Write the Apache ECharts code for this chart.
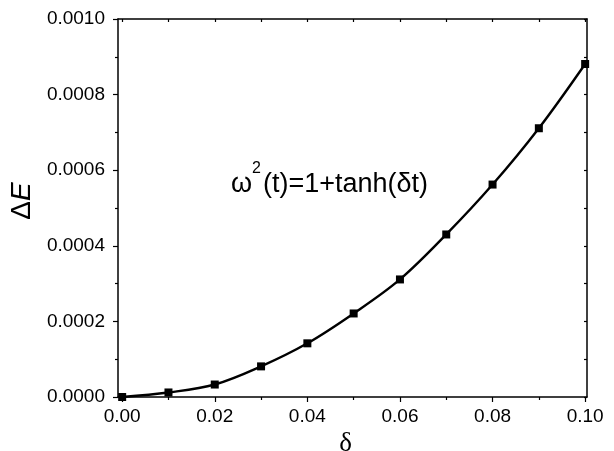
<!DOCTYPE html>
<html>
<head>
<meta charset="utf-8">
<script src="https://cdn.jsdelivr.net/npm/echarts@6/dist/echarts.min.js"></script>
<style>
  html, body { margin: 0; padding: 0; background: #fff; }
  #chart1 { width: 614px; height: 451px; }
</style>
</head>
<body>
<div id="chart1"></div>
<script>
// values
const deltas = [0.00, 0.01, 0.02, 0.03, 0.04, 0.05, 0.06, 0.07, 0.08, 0.09, 0.10];
const energyGap = [0.000000, 0.000012, 0.000033, 0.000081, 0.000142, 0.000221, 0.000311, 0.000430, 0.000562, 0.000711, 0.000881];
const xMajorTicks = [0.00, 0.02, 0.04, 0.06, 0.08, 0.10];
const xMinorTicks = [0.01, 0.03, 0.05, 0.07, 0.09];
const xAllTicks = [0.00, 0.01, 0.02, 0.03, 0.04, 0.05, 0.06, 0.07, 0.08, 0.09, 0.10];

const font = 'Liberation Sans, Arial, sans-serif';

const initChart = () => {
  const chart1 = echarts.init(document.getElementById('chart1'));

  const xBase = {
    type: 'value',
    min: -0.0009,
    max: 0.1004,
    splitLine: { show: false }
  };

  const option = {
    animation: false,
    grid: { left: 118, right: 27, top: 19, bottom: 54, outerBoundsMode: 'none', containLabel: false },
    xAxis: [
      Object.assign({}, xBase, {
        position: 'bottom',
        name: 'δ',
        nameLocation: 'middle',
        nameGap: 33,
        nameTextStyle: { fontFamily: 'Liberation Serif, serif', fontSize: 27, color: '#000', padding: [0, 14, 0, 0] },
        axisLine: { show: true, onZero: false, lineStyle: { color: '#000', width: 1.5 } },
        axisTick: { show: true, inside: false, length: 5, customValues: xMajorTicks, lineStyle: { color: '#000', width: 1.2 } },
        axisLabel: {
          customValues: xMajorTicks,
          margin: 10,
          fontFamily: font, fontSize: 19, color: '#000',
          formatter: v => v.toFixed(2)
        }
      }),
      Object.assign({}, xBase, {
        position: 'bottom',
        axisLine: { show: false, onZero: false },
        axisTick: { show: true, inside: false, length: 3, customValues: xMinorTicks, lineStyle: { color: '#000', width: 1.2 } },
        axisLabel: { show: false }
      }),
      Object.assign({}, xBase, {
        position: 'top',
        axisLine: { show: true, onZero: false, lineStyle: { color: '#000', width: 1.5 } },
        axisTick: { show: true, inside: true, length: 3, customValues: xAllTicks, lineStyle: { color: '#000', width: 1.2 } },
        axisLabel: { show: false }
      })
    ],
    yAxis: [
      {
        type: 'value',
        min: 0,
        max: 0.001,
        interval: 0.0002,
        position: 'left',
        name: '{d|Δ}{e|E}',
        nameLocation: 'middle',
        nameGap: 78,
        nameRotate: 90,
        nameTextStyle: {
          color: '#000',
          padding: [0, 0, 0, 14],
          rich: {
            d: { fontFamily: font, fontSize: 28, color: '#000' },
            e: { fontFamily: font, fontSize: 28, fontStyle: 'italic', color: '#000' }
          }
        },
        splitLine: { show: false },
        axisLine: { show: true, onZero: false, lineStyle: { color: '#000', width: 1.5 } },
        axisTick: { show: true, inside: false, length: 5, lineStyle: { color: '#000', width: 1.2 } },
        minorTick: { show: true, splitNumber: 2, length: 3, lineStyle: { color: '#000', width: 1.2 } },
        axisLabel: {
          margin: 13,
          fontFamily: font, fontSize: 19, color: '#000',
          formatter: v => v.toFixed(4)
        }
      },
      {
        type: 'value',
        min: 0,
        max: 0.001,
        interval: 0.0001,
        position: 'right',
        splitLine: { show: false },
        axisLine: { show: true, onZero: false, lineStyle: { color: '#000', width: 1.5 } },
        axisTick: { show: true, inside: true, length: 3, lineStyle: { color: '#000', width: 1.2 } },
        axisLabel: { show: false }
      }
    ],
    graphic: [
      { type: 'text', left: 231, top: 171, style: { text: 'ω', font: '27px ' + font, fill: '#000' } },
      { type: 'text', left: 252, top: 161, style: { text: '2', font: '16px ' + font, fill: '#000' } },
      { type: 'text', left: 263, top: 171, style: { text: '(t)=1+tanh(δt)', font: '27px ' + font, fill: '#000' } }
    ],
    series: [{
      type: 'line',
      xAxisIndex: 0,
      yAxisIndex: 0,
      data: deltas.map((d, i) => [d, energyGap[i]]),
      smooth: 0.35,
      symbol: 'rect',
      symbolSize: 8,
      lineStyle: { color: '#000', width: 2.4 },
      itemStyle: { color: '#000' },
      clip: false
    }]
  };

  chart1.setOption(option);
};

document.addEventListener('DOMContentLoaded', () => {
  initChart();
});
</script>
</body>
</html>
